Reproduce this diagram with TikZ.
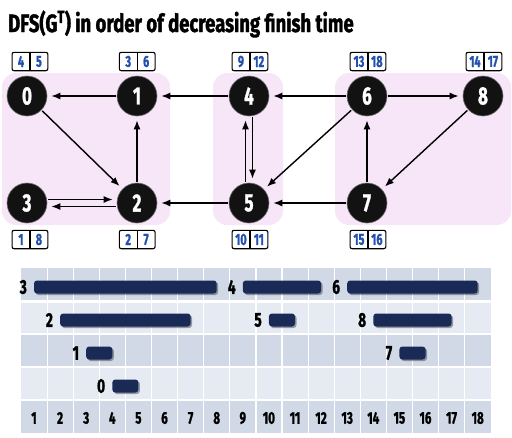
\documentclass[tikz,border=0pt]{standalone}
\usepackage{fontspec}
\setmainfont{Fira Sans}[FakeStretch=0.68, BoldFeatures={FakeBold=1.2}]
\newfontfamily\titlefont{Fira Sans}[FakeStretch=0.74, BoldFeatures={FakeBold=1.5}]
\usepackage{tikz}
\usetikzlibrary{arrows.meta,positioning}
\definecolor{sccpink}{RGB}{247,230,247}
\definecolor{rowdark}{RGB}{209,217,231}
\definecolor{rowlight}{RGB}{230,235,243}
\definecolor{barnavy}{RGB}{25,42,86}
\definecolor{stampblue}{RGB}{35,80,170}

\tikzset{
  vertex/.style={circle, fill=black!93, draw=black!55, line width=0.6pt,
    minimum size=40pt, inner sep=0pt, text=white,
    font=\bfseries\fontsize{25}{25}\selectfont},
  arc/.style={line width=1.4pt, -{Latex[length=9pt,width=7pt]},
    shorten >=4pt, shorten <=1pt},
  cell/.style={minimum width=17.5pt, minimum height=18pt, inner sep=0pt,
    text=stampblue, font=\bfseries\fontsize{16}{16}\selectfont},
  region/.style={fill=sccpink, rounded corners=14pt},
  bar/.style={fill=barnavy, rounded corners=3pt},
  barshadow/.style={fill=black, opacity=0.35, rounded corners=3pt},
  barlabel/.style={anchor=east, inner sep=0pt,
    font=\bfseries\fontsize{20}{20}\selectfont},
  ticklabel/.style={font=\bfseries\fontsize{17}{17}\selectfont},
}

% discovery | finish stamp: name, placement, d, f
\newcommand{\stamp}[4]{%
  \node[cell, #2] (#1d) {#3};
  \node[cell, right=0pt of #1d] (#1f) {#4};
  \draw[line width=1.1pt, rounded corners=2pt] (#1d.north west) rectangle (#1f.south east);
  \draw[line width=1.1pt] (#1d.north east) -- (#1d.south east);
}

% one bar of the chart: row, d, f, vertex
\newcommand{\interval}[4]{%
  \fill[barshadow] ({34+(#2-1)*26.1+1.5}, {287+33*(#1-1)-5}) rectangle ({34+(#3-1)*26.1+1.5}, {287+33*(#1-1)+8});
  \fill[bar] ({34+(#2-1)*26.1}, {287+33*(#1-1)-6.5}) rectangle ({34+(#3-1)*26.1}, {287+33*(#1-1)+6.5});
  \node[barlabel] (lab#4) at ({34+(#2-1)*26.1-7}, {287+33*(#1-1)}) {#4};
}

\begin{document}
\begin{tikzpicture}[x=1pt, y=-1pt]
    \useasboundingbox (0,0) rectangle (512,437);

    % Title
    \node[anchor=base west, inner sep=0pt, font=\titlefont\bfseries\fontsize{25}{25}\selectfont]
      (title) at (8,32) {DFS(G\textsuperscript{T}) in order of decreasing finish time};

    % Strongly connected components
    \fill[region] (2,73) rectangle (170,225);
    \fill[region] (213,73) rectangle (283,225);
    \fill[region] (335,73) rectangle (511,225);

    % Vertices
    \node[vertex] (n0) at (27,96) {0};
    \node[vertex] (n1) at (137,96) {1};
    \node[vertex] (n2) at (137,203) {2};
    \node[vertex] (n3) at (27,203) {3};
    \node[vertex] (n4) at (249,96) {4};
    \node[vertex] (n5) at (249,203) {5};
    \node[vertex] (n6) at (367,96) {6};
    \node[vertex] (n7) at (367,203) {7};
    \node[vertex] (n8) at (483,96) {8};

    % Times
    \stamp{t0}{above=5pt of n0, xshift=-6pt}{4}{5}
    \stamp{t1}{above=5pt of n1, xshift=-8.75pt}{3}{6}
    \stamp{t4}{above=5pt of n4, xshift=-8pt}{9}{12}
    \stamp{t6}{above=5pt of n6, xshift=-8pt}{13}{18}
    \stamp{t8}{above=5pt of n8, xshift=-8pt}{14}{17}
    \stamp{t3}{below=7pt of n3, xshift=-6pt}{1}{8}
    \stamp{t2}{below=7pt of n2, xshift=-8.75pt}{2}{7}
    \stamp{t5}{below=7pt of n5, xshift=-8pt}{10}{11}
    \stamp{t7}{below=7pt of n7, xshift=-8pt}{15}{16}

    % Edges
    \draw[arc] (n1) -- (n0);
    \draw[arc] (n0) -- (n2);
    \draw[arc] (n2) -- (n1);
    \draw[arc] ([yshift=3.5pt]n3.east) -- ([yshift=3.5pt]n2.west);
    \draw[arc] ([yshift=-3.5pt]n2.west) -- ([yshift=-3.5pt]n3.east);
    \draw[arc] (n4) -- (n1);
    \draw[arc] (n5) -- (n2);
    \draw[arc] ([xshift=-3.5pt]n5.north) -- ([xshift=-3.5pt]n4.south);
    \draw[arc] ([xshift=3.5pt]n4.south) -- ([xshift=3.5pt]n5.north);
    \draw[arc] (n6) -- (n4);
    \draw[arc] (n6) -- (n8);
    \draw[arc] (n6) -- (n5);
    \draw[arc] (n7) -- (n6);
    \draw[arc] (n7) -- (n5);
    \draw[arc] (n8) -- (n7);

    % Chart background
    \foreach \r/\c in {1/rowdark, 2/rowlight, 3/rowdark, 4/rowlight, 5/rowdark}
      \fill[\c] (21, {268+33*(\r-1)}) rectangle (490.8, {268+33*\r});
    \foreach \i in {1,...,17}
      \draw[white, line width=1.2pt] ({21+\i*26.1}, 268) -- ++(0,165);
    \foreach \r in {2,...,4}
      \draw[white, line width=1.3pt] (21, {268+33*\r}) -- (490.8, {268+33*\r});
    \draw[white, line width=3pt] (21,301) -- (490.8,301);

    % Time axis
    \foreach \i in {1,...,18}
      \node[ticklabel] (tick\i) at ({34+(\i-1)*26.1}, 418) {\i};

    % Bars
    \interval{1}{1}{8}{3}
    \interval{1}{9}{12}{4}
    \interval{1}{13}{18}{6}
    \interval{2}{2}{7}{2}
    \interval{2}{10}{11}{5}
    \interval{2}{14}{17}{8}
    \interval{3}{3}{4}{1}
    \interval{3}{15}{16}{7}
    \interval{4}{4}{5}{0}
\end{tikzpicture}
\end{document}
